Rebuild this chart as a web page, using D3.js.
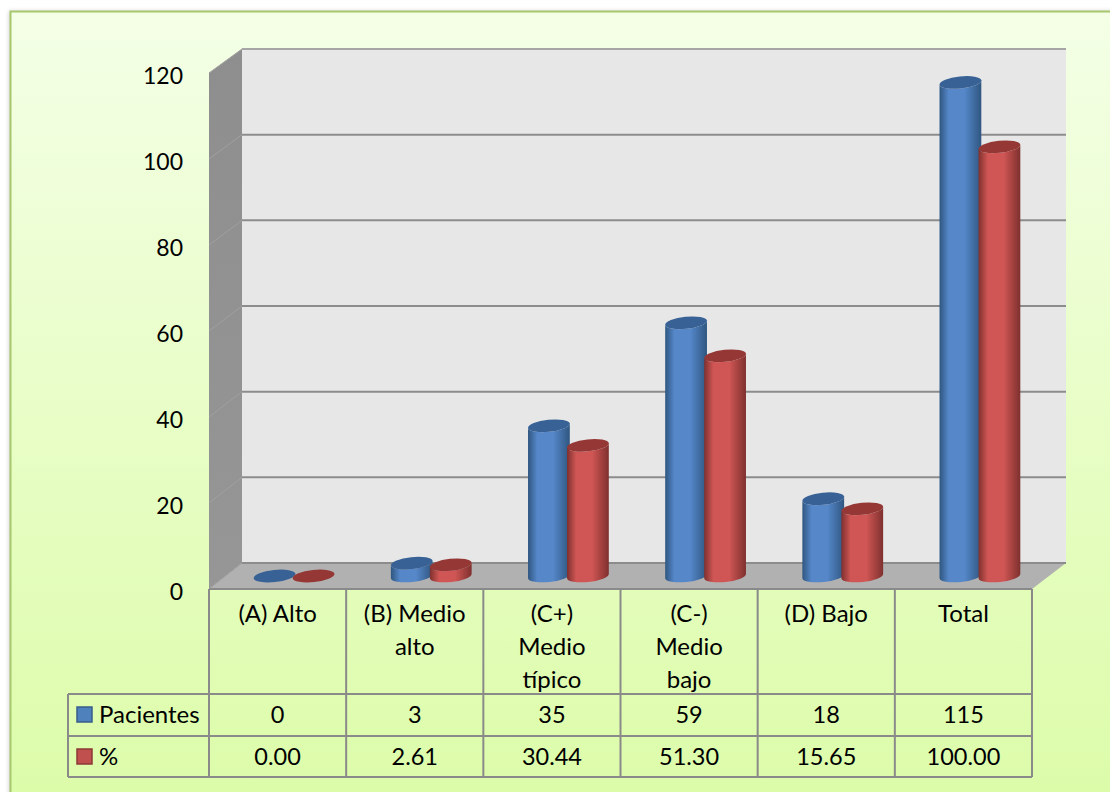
<!DOCTYPE html>
<html lang="es">
<head>
<meta charset="UTF-8">
<title>Pacientes por nivel</title>
<script src="https://cdn.jsdelivr.net/npm/d3@7/dist/d3.min.js"></script>
<style>
    body { margin: 0; background: #fff; }
    svg { display: block; }
    text { font-family: Lato, "Open Sans", sans-serif; font-size: 24px; fill: #000; }
    text.num { font-size: 23.5px; }
</style>
</head>
<body>
<script>
var categories = [["(A) Alto"], ["(B) Medio", "alto"], ["(C+)", "Medio", "típico"], ["(C-)", "Medio", "bajo"], ["(D) Bajo"], ["Total"]];
var categoryKeys = ["A", "B", "C+", "C-", "D", "T"];
var seriesNames = ["Pacientes", "%"];
var pacientes = [0, 3, 35, 59, 18, 115];
var porcentaje = [0.00, 2.61, 30.44, 51.30, 15.65, 100.00];
var yTicks = [0, 20, 40, 60, 80, 100, 120];

var width = 1110, height = 792;
var depthX = 33, depthY = 26;          // how far the back wall sits from the front plane
var plotLeft = 209, plotRight = 1032;
var front0 = 589, front120 = 73;       // front plane, value 0 and value 120
var rowTop = 694, rowMid = 736, rowBottom = 777;
var tableLeft = 68;

var seriesColors = [
    { edge: "#2f5680", mid: "#5587c9", top: "#386295", swatch: "#4f81bd", line: "#385d8a" },
    { edge: "#7f302e", mid: "#cf5654", top: "#953735", swatch: "#c0504d", line: "#8c3836" }
];

var svg = d3.select("body").append("svg")
    .attr("width", width)
    .attr("height", height);

var defs = svg.append("defs");

var bg = defs.append("linearGradient").attr("id", "bg")
    .attr("x1", 0).attr("x2", 0).attr("y1", 0).attr("y2", 1);
bg.append("stop").attr("offset", 0).attr("stop-color", "#f4ffe6");
bg.append("stop").attr("offset", 1).attr("stop-color", "#dcfca8");

var sideWall = defs.append("linearGradient").attr("id", "side")
    .attr("x1", 0).attr("x2", 0).attr("y1", 0).attr("y2", 1);
sideWall.append("stop").attr("offset", 0).attr("stop-color", "#8e8e8e");
sideWall.append("stop").attr("offset", 1).attr("stop-color", "#969696");

seriesColors.forEach(function(c, i) {
    var g = defs.append("linearGradient").attr("id", "cyl" + i);
    g.append("stop").attr("offset", 0).attr("stop-color", c.edge);
    g.append("stop").attr("offset", 0.22).attr("stop-color", c.mid);
    g.append("stop").attr("offset", 0.6).attr("stop-color", c.mid);
    g.append("stop").attr("offset", 1).attr("stop-color", c.edge);
});

var blur = defs.append("filter").attr("id", "soft");
blur.append("feGaussianBlur").attr("stdDeviation", 0.4);

// page background with the frame running off the right and bottom edges
var shadow = defs.append("filter").attr("id", "frameShadow")
    .attr("x", "-2%").attr("y", "-2%").attr("width", "104%").attr("height", "104%");
shadow.append("feGaussianBlur").attr("stdDeviation", 2);

svg.append("rect")
    .attr("x", 9).attr("y", 11)
    .attr("width", width).attr("height", height)
    .attr("fill", "#cfcfcf")
    .attr("filter", "url(#frameShadow)");

svg.append("rect")
    .attr("x", 10.5).attr("y", 11.5)
    .attr("width", width + 10).attr("height", height + 10)
    .attr("fill", "url(#bg)")
    .attr("stroke", "#a8c86e")
    .attr("stroke-width", 2);

// scales
var yFront = d3.scaleLinear().domain([0, 120]).range([front0, front120]);
var yBack = d3.scaleLinear().domain([0, 120]).range([front0 - depthY, front120 - depthY + 2]);
var yMid = d3.scaleLinear().domain([0, 120]).range([front0 - depthY / 2, front120 - depthY / 2 + 1]);

var xTable = d3.scaleBand().domain(categoryKeys).range([plotLeft, plotRight]);
var xBars = d3.scaleBand().domain(categoryKeys).range([plotLeft + depthX / 2, plotRight + depthX / 2]);
var xSeries = d3.scaleBand().domain(seriesNames).range([-39, 39]);

var poly = d3.line();

// walls and floor
svg.append("path")
    .attr("d", poly([[plotLeft, yFront(120)], [plotLeft + depthX, yBack(120)], [plotLeft + depthX, yBack(0)], [plotLeft, yFront(0)]]) + "Z")
    .attr("fill", "url(#side)");

svg.append("path")
    .attr("d", poly([[plotLeft + depthX, yBack(120)], [plotRight + depthX + 1, yBack(120)], [plotRight + depthX + 1, yBack(0)], [plotLeft + depthX, yBack(0)]]) + "Z")
    .attr("fill", "#e7e7e7");

svg.append("path")
    .attr("d", poly([[plotLeft, yFront(0)], [plotLeft + depthX, yBack(0)], [plotRight + depthX + 1, yBack(0)], [plotRight, yFront(0)]]) + "Z")
    .attr("fill", "#b1b1b1");

// gridlines on the back wall, carried across the side wall
var grid = svg.append("g").attr("class", "grid");

grid.selectAll("line.back")
    .data(yTicks)
    .enter().append("line")
    .attr("class", "back")
    .attr("x1", plotLeft + depthX)
    .attr("x2", plotRight + depthX + 1)
    .attr("y1", function(d) { return yBack(d); })
    .attr("y2", function(d) { return yBack(d); })
    .attr("stroke", function(d) { return d === 120 ? "#a6a6a6" : "#8c8c8c"; })
    .attr("stroke-width", 2);

grid.selectAll("line.side")
    .data(yTicks)
    .enter().append("line")
    .attr("class", "side")
    .attr("x1", plotLeft)
    .attr("x2", plotLeft + depthX)
    .attr("y1", function(d) { return yFront(d); })
    .attr("y2", function(d) { return yBack(d); })
    .attr("stroke", "#a0a0a0")
    .attr("stroke-width", 1);

// cylinders
var rx = 21, ry = 6, tilt = -6;
var dx = rx * Math.cos(tilt * Math.PI / 180);
var dy = rx * Math.sin(tilt * Math.PI / 180);

function bodyPath(yTop, yBase) {
    return "M" + (-dx) + "," + (yTop - dy) +
        "L" + (-dx) + "," + (yBase - dy) +
        "A" + rx + "," + ry + "," + tilt + ",0,0," + dx + "," + (yBase + dy) +
        "L" + dx + "," + (yTop + dy) +
        "A" + rx + "," + ry + "," + tilt + ",0,1," + (-dx) + "," + (yTop - dy) + "Z";
}

[pacientes, porcentaje].forEach(function(values, s) {
    var name = seriesNames[s];
    var bars = svg.append("g").attr("class", "series").attr("filter", "url(#soft)")
        .selectAll("g")
        .data(values)
        .enter().append("g")
        .attr("transform", function(d, i) {
            var k = categoryKeys[i];
            return "translate(" + (xBars(k) + xBars.bandwidth() / 2 + xSeries(name) + xSeries.bandwidth() / 2) + ",0)";
        });

    bars.append("path")
        .attr("d", function(d) { return bodyPath(yMid(d), yMid(0)); })
        .attr("fill", "url(#cyl" + s + ")");

    bars.append("ellipse")
        .attr("rx", rx)
        .attr("ry", ry)
        .attr("transform", function(d) { return "translate(0," + yMid(d) + ") rotate(" + tilt + ")"; })
        .attr("fill", seriesColors[s].top);
});

// value axis
var yAxis = d3.axisLeft(yFront)
    .tickValues(yTicks)
    .tickSize(0)
    .tickPadding(26);

var axisG = svg.append("g")
    .attr("transform", "translate(" + plotLeft + ",3.5)")
    .call(yAxis);
axisG.select(".domain").remove();
axisG.selectAll("text").attr("font-family", null).attr("font-size", null).style("font-size", "23px");

// data table under the plot
var table = svg.append("g")
    .attr("stroke", "#8a8a8a")
    .attr("stroke-width", 2)
    .attr("fill", "none");

table.append("path").attr("d", poly([[tableLeft, rowTop], [plotRight, rowTop]]));
table.append("path").attr("d", poly([[tableLeft, rowMid], [plotRight, rowMid]]));
table.append("path").attr("d", poly([[tableLeft, rowBottom], [plotRight, rowBottom]]));
table.append("path").attr("d", poly([[tableLeft, rowTop], [tableLeft, rowBottom]]));
table.append("path").attr("d", poly([[plotLeft, front0], [plotRight, front0]]));

categoryKeys.concat(["end"]).forEach(function(k) {
    var x = k === "end" ? plotRight : xTable(k);
    table.append("path").attr("d", poly([[x, front0], [x, rowBottom]]));
});

var labelLineHeight = 33;
var headers = svg.append("g").attr("text-anchor", "middle")
    .selectAll("text")
    .data(categories)
    .enter().append("text")
    .attr("transform", function(d, i) {
        return "translate(" + (xTable(categoryKeys[i]) + xTable.bandwidth() / 2) + ",622)";
    });

headers.selectAll("tspan")
    .data(function(d) { return d; })
    .enter().append("tspan")
    .attr("x", 0)
    .attr("y", function(d, i) { return i * labelLineHeight; })
    .text(function(d) { return d; });

function valueRow(values, format, y) {
    svg.append("g").attr("text-anchor", "middle")
        .selectAll("text")
        .data(values)
        .enter().append("text")
        .attr("class", "num")
        .attr("x", function(d, i) { return xTable(categoryKeys[i]) + xTable.bandwidth() / 2; })
        .attr("y", y)
        .text(format);
}
valueRow(pacientes, function(d) { return d; }, 723);
valueRow(porcentaje, function(d) { return d.toFixed(2); }, 765);

// legend keys in the first column
seriesNames.forEach(function(name, i) {
    var rowY = i === 0 ? rowTop : rowMid;
    svg.append("rect")
        .attr("x", 77)
        .attr("y", rowY + 13)
        .attr("width", 15)
        .attr("height", 15)
        .attr("fill", seriesColors[i].swatch)
        .attr("stroke", seriesColors[i].line)
        .attr("stroke-width", 1.5);
    svg.append("text")
        .attr("x", 99)
        .attr("y", rowY + 29)
        .text(name);
});
</script>
</body>
</html>
